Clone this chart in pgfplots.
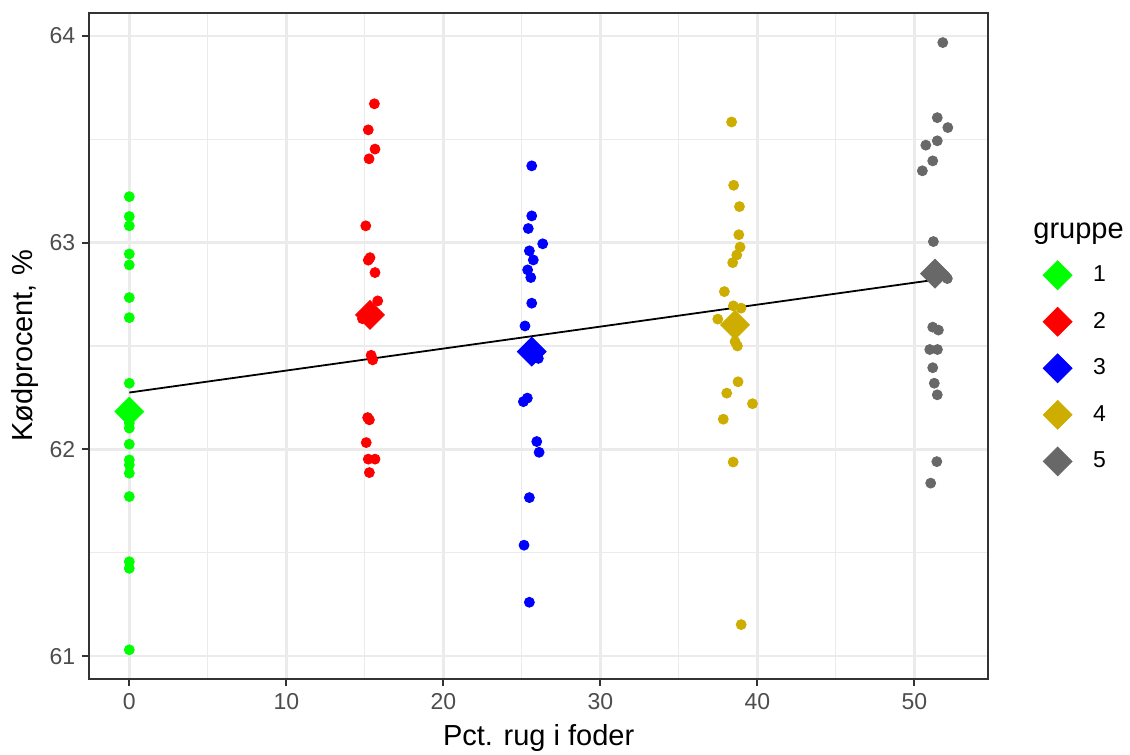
\documentclass[border=0pt]{standalone}
\usepackage{fontspec}
\setmainfont{Liberation Sans}
\usepackage{pgfplots}
\pgfplotsset{compat=1.18}

\definecolor{g1}{HTML}{00FF00}
\definecolor{g2}{HTML}{FF0000}
\definecolor{g3}{HTML}{0000FF}
\definecolor{g4}{HTML}{CDAD00}
\definecolor{g5}{HTML}{686868}
\definecolor{grey92}{HTML}{EBEBEB}
\definecolor{grey20}{HTML}{333333}
\definecolor{grey30}{HTML}{4D4D4D}

\begin{document}
\begin{tikzpicture}
\useasboundingbox (-44.65pt,-38pt) rectangle (520.35pt,339.5pt);
\begin{axis}[
    scale only axis, width=449.35pt, height=333pt,
    xmin=-2.548, xmax=54.69, ymin=60.89, ymax=64.11,
    xtick={0,10,...,50}, ytick={61,62,63,64},
    minor xtick={5,15,...,45}, minor ytick={61.5,62.5,63.5},
    grid=both,
    major grid style={grey92, line width=1.2pt},
    minor grid style={grey92, line width=0.6pt},
    axis line style={grey20, line width=1pt},
    tick align=outside, major tick length=3.5pt, minor tick length=0pt,
    tick style={grey20, line width=1pt},
    xtick pos=bottom, ytick pos=left,
    tick label style={font=\fontsize{11.5}{13}\selectfont, text=grey30},
    /pgf/number format/assume math mode=true,
    every axis x label/.style={at={(axis description cs:0.5,0)}, yshift=-33pt, anchor=base},
    every axis y label/.style={at={(axis description cs:-0.0715,0.5)}, rotate=90, anchor=center},
    label style={font=\fontsize{14.5}{17}\selectfont},
    xlabel={Pct. rug i foder},
    ylabel={Kødprocent, \%},
    legend style={at={(axis description cs:1.061,0.4665)}, anchor=west, draw=none, fill=none,
        font=\fontsize{11.5}{13}\selectfont, row sep=8.85pt, inner sep=0pt,
        /tikz/every odd column/.append style={column sep=8.5pt}},
    legend cell align=left,
]
% jittered observations
\addplot[only marks, mark=*, mark size=2.5pt, color=g1, forget plot] coordinates {
 (0,63.222)(0,63.126)(0,63.081)(0,62.945)(0,62.892)(0,62.734)(0,62.637)(0,62.320)
 (0,62.127)(0,62.103)(0,62.025)(0,61.949)(0,61.925)(0,61.885)(0,61.772)(0,61.457)
 (0,61.425)(0,61.031)};
\addplot[only marks, mark=*, mark size=2.5pt, color=g2, forget plot] coordinates {
 (15.61,63.671)(15.22,63.545)(15.65,63.452)(15.27,63.405)(15.06,63.081)(15.33,62.927)
 (15.22,62.915)(15.65,62.855)(15.82,62.718)(14.85,62.632)(15.45,62.665)(15.40,62.455)
 (15.50,62.433)(15.18,62.154)(15.29,62.143)(15.09,62.033)(15.22,61.953)(15.65,61.953)
 (15.29,61.888)};
\addplot[only marks, mark=*, mark size=2.5pt, color=g3, forget plot] coordinates {
 (25.63,63.371)(25.63,63.129)(25.41,63.068)(26.33,62.994)(25.48,62.960)(25.73,62.916)
 (25.37,62.868)(25.57,62.831)(25.63,62.707)(25.20,62.597)(26.05,62.440)(25.10,62.231)
 (25.35,62.248)(25.95,62.038)(26.10,61.986)(25.48,61.767)(25.14,61.537)(25.48,61.261)};
\addplot[only marks, mark=*, mark size=2.5pt, color=g4, forget plot] coordinates {
 (38.36,63.583)(38.49,63.277)(38.86,63.174)(38.82,63.038)(38.90,62.978)(38.69,62.940)
 (38.43,62.903)(37.90,62.763)(38.47,62.694)(38.96,62.683)(37.48,62.630)(38.58,62.521)
 (38.73,62.500)(38.77,62.327)(38.05,62.272)(39.69,62.221)(37.83,62.146)(38.46,61.939)
 (38.97,61.153)};
\addplot[only marks, mark=*, mark size=2.5pt, color=g5, forget plot] coordinates {
 (51.81,63.967)(51.46,63.604)(52.13,63.556)(51.46,63.492)(50.73,63.471)(51.17,63.395)
 (50.51,63.347)(51.21,63.005)(52.10,62.826)(51.17,62.591)(51.53,62.577)(50.98,62.483)
 (51.47,62.483)(51.17,62.395)(51.27,62.320)(51.46,62.264)(51.43,61.941)(51.04,61.837)};
% fitted line
\addplot[black, line width=0.9pt, forget plot] coordinates {(0,62.275)(51.3,62.820)};
% group means
\addplot[only marks, mark=square*, mark size=5.1pt, mark options={rotate=45}, color=g1] coordinates {(0,62.183)};
\addlegendentry{1}
\addplot[only marks, mark=square*, mark size=5.1pt, mark options={rotate=45}, color=g2] coordinates {(15.33,62.650)};
\addlegendentry{2}
\addplot[only marks, mark=square*, mark size=5.1pt, mark options={rotate=45}, color=g3] coordinates {(25.63,62.473)};
\addlegendentry{3}
\addplot[only marks, mark=square*, mark size=5.1pt, mark options={rotate=45}, color=g4] coordinates {(38.58,62.602)};
\addlegendentry{4}
\addplot[only marks, mark=square*, mark size=5.1pt, mark options={rotate=45}, color=g5] coordinates {(51.32,62.850)};
\addlegendentry{5}
\end{axis}
\node[anchor=base west, font=\fontsize{14.5}{17}\selectfont, inner sep=0pt] at (471.85pt,220pt) {gruppe};
\end{tikzpicture}
\end{document}
